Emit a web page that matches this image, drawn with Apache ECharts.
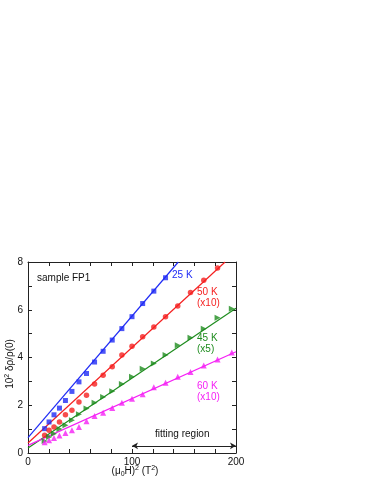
<!DOCTYPE html>
<html>
<head>
<meta charset="utf-8">
<script src="https://cdn.jsdelivr.net/npm/echarts@6/dist/echarts.min.js"></script>
<style>
  html, body { margin: 0; padding: 0; background: #fff; }
  #chart { width: 374px; height: 484px; }
</style>
</head>
<body>
<div id="chart"></div>
<script>
// (mu0 H)^2 in T^2, H = 4 ... 14 T in 0.5 T steps
var fieldSq = [16, 20.25, 25, 30.25, 36, 42.25, 49, 56.25, 64, 72.25, 81, 90.25,
    100, 110.25, 121, 132.25, 144, 156.25, 169, 182.25, 196];

var k25 = [1.02, 1.30, 1.60, 1.88, 2.20, 2.58, 2.98, 3.33, 3.81, 4.26, 4.73, 5.21,
    5.71, 6.26, 6.78, 7.34];
var k50 = [0.74, 0.95, 1.09, 1.30, 1.60, 1.79, 2.14, 2.42, 2.89, 3.26, 3.61, 4.10,
    4.47, 4.87, 5.28, 5.71, 6.16, 6.72, 7.24, 7.75];
var k45 = [0.50, 0.67, 0.81, 1.01, 1.16, 1.37, 1.62, 1.86, 2.10, 2.35, 2.59, 2.89,
    3.19, 3.53, 3.75, 4.10, 4.51, 4.83, 5.20, 5.66, 6.04];
var k60 = [0.45, 0.53, 0.63, 0.73, 0.84, 0.95, 1.09, 1.33, 1.55, 1.69, 1.88, 2.10,
    2.27, 2.46, 2.75, 2.94, 3.19, 3.39, 3.67, 3.92, 4.21];

// fitted lines: [x0, y0] -> [x1, y1]
var fit25 = [[0, 0.64], [144.5, 8]];
var fit50 = [[0, 0.42], [189.5, 8]];
var fit45 = [[0, 0.21], [200, 6.06]];
var fit60 = [[0, 0.32], [200, 4.24]];

var fittingRange = [100, 200];
var fittingY = 0.3;

var colors = {b: '#1f2bf5', r: '#f51f1f', g: '#1e8c1e', m: '#f51ff5'};

var pairs = function (ys) {
    var out = [];
    for (var i = 0; i < ys.length; i++) {
        out.push([fieldSq[i], ys[i]]);
    }
    return out;
};

var chart = echarts.init(document.getElementById('chart'));

var fontFamily = '"Liberation Sans", Arial, sans-serif';
var axisLine = {show: true, onZero: false, lineStyle: {color: '#222', width: 1}};
var tick = {inside: true, length: 4, lineStyle: {color: '#222'}};

var makeScatter = function (name, ys, color, symbol, rotate, size) {
    return {
        name: name,
        type: 'scatter',
        data: pairs(ys),
        symbol: symbol,
        symbolSize: size,
        symbolRotate: rotate,
        itemStyle: {color: color},
        z: 3
    };
};
var makeLine = function (name, pts, color) {
    return {
        name: name,
        type: 'line',
        data: pts,
        showSymbol: false,
        symbol: 'none',
        lineStyle: {color: color, width: 1.2},
        z: 2
    };
};

chart.setOption({
    animation: false,
    textStyle: {fontFamily: fontFamily},
    grid: {left: 28, right: 138, top: 262, bottom: 31},
    xAxis: [{
        type: 'value', min: 0, max: 200, interval: 100,
        axisLine: axisLine,
        axisTick: tick,
        minorTick: {show: true, splitNumber: 5, length: 4, lineStyle: {color: '#222'}},
        axisLabel: {color: '#111', fontSize: 10, margin: 4, fontFamily: fontFamily},
        splitLine: {show: false}
    }, {
        type: 'value', min: 0, max: 200, interval: 100, position: 'top',
        axisLine: axisLine,
        axisTick: tick,
        minorTick: {show: true, splitNumber: 5, length: 4, lineStyle: {color: '#222'}},
        axisLabel: {show: false},
        splitLine: {show: false}
    }],
    yAxis: [{
        type: 'value', min: 0, max: 8, interval: 2,
        axisLine: axisLine,
        axisTick: tick,
        minorTick: {show: true, splitNumber: 2, length: 4, lineStyle: {color: '#222'}},
        axisLabel: {color: '#111', fontSize: 10, margin: 5, fontFamily: fontFamily},
        splitLine: {show: false}
    }, {
        type: 'value', min: 0, max: 8, interval: 2, position: 'right',
        axisLine: axisLine,
        axisTick: tick,
        minorTick: {show: true, splitNumber: 2, length: 4, lineStyle: {color: '#222'}},
        axisLabel: {show: false},
        splitLine: {show: false}
    }],
    series: [
        makeLine('fit 25 K', fit25, colors.b),
        makeLine('fit 50 K', fit50, colors.r),
        makeLine('fit 45 K', fit45, colors.g),
        makeLine('fit 60 K', fit60, colors.m),
        makeScatter('25 K', k25, colors.b, 'rect', 0, 5),
        makeScatter('50 K', k50, colors.r, 'circle', 0, 5.5),
        makeScatter('45 K', k45, colors.g, 'triangle', -90, 6),
        makeScatter('60 K', k60, colors.m, 'triangle', 0, 6),
        {
            name: 'fitting region',
            type: 'line',
            data: [],
            markLine: {
                silent: true,
                symbol: ['arrow', 'arrow'],
                symbolSize: [5, 6],
                label: {show: false},
                lineStyle: {color: '#222', width: 1, type: 'solid'},
                data: [[{coord: [fittingRange[0], fittingY]}, {coord: [fittingRange[1], fittingY]}]]
            }
        }
    ],
    graphic: [
        {type: 'text', left: 37, top: 273, style: {text: 'sample FP1', fill: '#111', font: '10px ' + fontFamily}},
        {type: 'text', left: 172, top: 270, style: {text: '25 K', fill: colors.b, font: '10px ' + fontFamily}},
        {type: 'text', left: 197, top: 287, style: {text: '50 K\n(x10)', fill: colors.r, font: '10px ' + fontFamily, lineHeight: 11}},
        {type: 'text', left: 197, top: 333, style: {text: '45 K\n(x5)', fill: colors.g, font: '10px ' + fontFamily, lineHeight: 11}},
        {type: 'text', left: 197, top: 381, style: {text: '60 K\n(x10)', fill: colors.m, font: '10px ' + fontFamily, lineHeight: 11}},
        {type: 'text', left: 155, top: 429, style: {text: 'fitting region', fill: '#111', font: '10px ' + fontFamily}},
        {
            type: 'text', x: 135, y: 471,
            style: {
                text: '{n|(μ}{s|0}{n|H)}{p|2}{n| (T}{p|2}{n|)}',
                align: 'center', verticalAlign: 'middle',
                rich: {
                    n: {fontSize: 10, fontFamily: fontFamily, fill: '#111'},
                    s: {fontSize: 7, fontFamily: fontFamily, fill: '#111', padding: [6, 0, 0, 0]},
                    p: {fontSize: 7, fontFamily: fontFamily, fill: '#111', padding: [0, 0, 6, 0]}
                }
            }
        },
        {
            type: 'text', x: 10, y: 364, rotation: Math.PI / 2,
            style: {
                text: '{n|10}{p|2}{n| δρ/ρ(0)}',
                align: 'center', verticalAlign: 'middle',
                rich: {
                    n: {fontSize: 10, fontFamily: fontFamily, fill: '#111'},
                    p: {fontSize: 7, fontFamily: fontFamily, fill: '#111', padding: [0, 0, 6, 0]}
                }
            }
        }
    ]
});
</script>
</body>
</html>
